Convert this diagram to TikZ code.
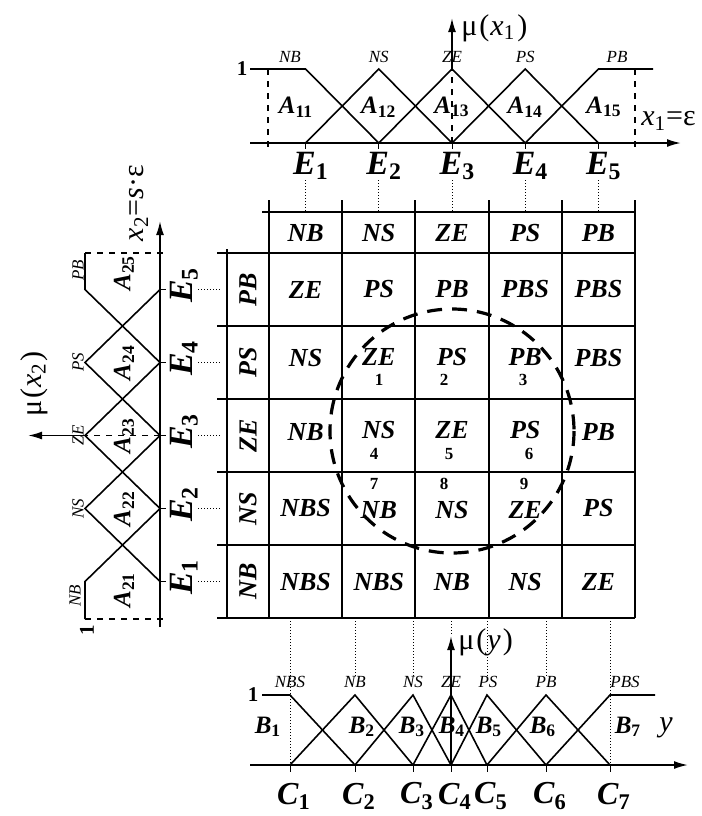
\documentclass[tikz,border=0pt]{standalone}
\usepackage{fontspec}
\setmainfont{Liberation Serif}
\usepackage{tikz}
\usetikzlibrary{arrows.meta}
\newcommand{\subidx}[1]{\textsubscript{\upshape #1}}

\begin{document}
\begin{tikzpicture}[
    x=0.5pt, y=-0.5pt,
    cell/.style={font=\fontsize{13}{13}\selectfont\bfseries\itshape, inner sep=0pt},
    side cell/.style={cell, rotate=90},
    num/.style={font=\fontsize{8.5}{8.5}\selectfont\bfseries, inner sep=0pt},
    term/.style={font=\fontsize{8.5}{8.5}\selectfont\itshape, inner sep=0pt},
    area/.style={font=\fontsize{12.5}{12.5}\selectfont\bfseries\itshape, inner sep=0pt},
    elabel/.style={font=\fontsize{17}{17}\selectfont\bfseries\itshape, inner sep=0pt},
    clabel/.style={font=\fontsize{16}{16}\selectfont\bfseries\itshape, inner sep=0pt},
    one/.style={font=\fontsize{10.5}{10.5}\selectfont\bfseries, inner sep=0pt},
    axlabel/.style={font=\fontsize{15}{15}\selectfont, inner sep=0pt},
    tab line/.style={line width=1pt},
    mf/.style={line width=0.8pt},
    axis/.style={line width=0.9pt, -{Latex[length=7pt,width=4pt]}},
    guide/.style={densely dotted, line width=0.5pt},
    bound/.style={dashed, line width=0.7pt},
    zone/.style={line width=1.6pt, dash pattern=on 7.5pt off 5pt}
  ]
  \useasboundingbox (0,0) rectangle (702,816);

  % table
  \draw[tab line] (262,212) -- (635,212);
  \draw[tab line] (217,253) -- (635,253);
  \draw[tab line] (217,326) -- (635,326);
  \draw[tab line] (217,399) -- (635,399);
  \draw[tab line] (217,472) -- (635,472);
  \draw[tab line] (217,545) -- (635,545);
  \draw[tab line] (217,618) -- (635,618);
  \draw[tab line] (227,249) -- (227,618);
  \draw[tab line] (269,200) -- (269,618);
  \draw[tab line] (342.2,200) -- (342.2,618);
  \draw[tab line] (415.4,200) -- (415.4,618);
  \draw[tab line] (488.6,200) -- (488.6,618);
  \draw[tab line] (561.8,200) -- (561.8,618);
  \draw[tab line] (635,200) -- (635,618);

  \node[cell] (top1) at (305.6,233) {NB};
  \node[cell] (top2) at (378.8,233) {NS};
  \node[cell] (top3) at (452,233) {ZE};
  \node[cell] (top4) at (525.2,233) {PS};
  \node[cell] (top5) at (598.4,233) {PB};

  \node[side cell] (side5) at (248,289.5) {PB};
  \node[side cell] (side4) at (248,362.5) {PS};
  \node[side cell] (side3) at (248,435.5) {ZE};
  \node[side cell] (side2) at (248,508.5) {NS};
  \node[side cell] (side1) at (248,581.5) {NB};

  \node[cell] (pb1) at (305.6,289.5) {ZE};
  \node[cell] (pb2) at (378.8,289.5) {PS};
  \node[cell] (pb3) at (452,289.5) {PB};
  \node[cell] (pb4) at (525.2,289.5) {PBS};
  \node[cell] (pb5) at (598.4,289.5) {PBS};

  \node[cell] (ps1) at (305.6,358) {NS};
  \node[cell] (ps2) at (378.8,357) {ZE};
  \node[cell] (ps3) at (452,357) {PS};
  \node[cell] (ps4) at (525.2,357) {PB};
  \node[cell] (ps5) at (598.4,358) {PBS};

  \node[cell] (ze1) at (305.6,432) {NB};
  \node[cell] (ze2) at (378.8,430) {NS};
  \node[cell] (ze3) at (452,430) {ZE};
  \node[cell] (ze4) at (525.2,430) {PS};
  \node[cell] (ze5) at (598.4,432) {PB};

  \node[cell] (ns1) at (305.6,508) {NBS};
  \node[cell] (ns2) at (378.8,510) {NB};
  \node[cell] (ns3) at (452,510) {NS};
  \node[cell] (ns4) at (525.2,510) {ZE};
  \node[cell] (ns5) at (598.4,508) {PS};

  \node[cell] (nb1) at (305.6,582) {NBS};
  \node[cell] (nb2) at (378.8,582) {NBS};
  \node[cell] (nb3) at (452,582) {NB};
  \node[cell] (nb4) at (525.2,582) {NS};
  \node[cell] (nb5) at (598.4,582) {ZE};

  \node[num] (k1) at (379,380) {1};
  \node[num] (k2) at (444,380) {2};
  \node[num] (k3) at (523,380) {3};
  \node[num] (k4) at (374,454) {4};
  \node[num] (k5) at (449,454) {5};
  \node[num] (k6) at (529,454) {6};
  \node[num] (k7) at (374,484) {7};
  \node[num] (k8) at (444,484) {8};
  \node[num] (k9) at (524,484) {9};

  \draw[zone] (452,431) circle[radius=122];

  % mu(x1)
  \draw[mf] (250,69) -- (305.6,69) -- (378.8,143);
  \draw[mf] (305.6,143) -- (378.8,69) -- (452,143);
  \draw[mf] (378.8,143) -- (452,69) -- (525.2,143);
  \draw[mf] (452,143) -- (525.2,69) -- (598.4,143);
  \draw[mf] (525.2,143) -- (598.4,69) -- (653,69);
  \draw[bound] (268,69) -- (268,149);
  \draw[bound] (635,69) -- (635,149);
  \draw[bound] (452,143) -- (452,69);
  \draw[axis] (452,69) -- (452,18);
  \draw[axis] (250,143) -- (681,143);
  \draw (305.6,143) -- (305.6,149) (378.8,143) -- (378.8,149) (452,143) -- (452,149)
        (525.2,143) -- (525.2,149) (598.4,143) -- (598.4,149);

  \node[one] (one1) at (242,69) {1};
  \node[term] (tnb) at (290,57) {NB};
  \node[term] (tns) at (378.8,57) {NS};
  \node[term] (tze) at (452,57) {ZE};
  \node[term] (tps) at (525.2,57) {PS};
  \node[term] (tpb) at (617,57) {PB};
  \node[area] (a11) at (296,107) {A\subidx{11}};
  \node[area] (a12) at (378.8,107) {A\subidx{12}};
  \node[area] (a13) at (452,107) {A\subidx{13}};
  \node[area] (a14) at (525.2,107) {A\subidx{14}};
  \node[area] (a15) at (604,107) {A\subidx{15}};
  \node[axlabel, anchor=west] (mux1) at (461,28) {μ\kern1pt(\kern0.5pt\textit{x}\subidx{1}\kern1pt)};
  \node[axlabel, anchor=west] (xone) at (641,121) {\textit{x}\subidx{1}=ε};

  \node[elabel] (e1) at (311,166) {E\subidx{1}};
  \node[elabel] (e2) at (384.2,166) {E\subidx{2}};
  \node[elabel] (e3) at (457.4,166) {E\subidx{3}};
  \node[elabel] (e4) at (530.6,166) {E\subidx{4}};
  \node[elabel] (e5) at (603.8,166) {E\subidx{5}};
  \coordinate (t1) at (305.6,212);
  \coordinate (t2) at (378.8,212);
  \coordinate (t3) at (452,212);
  \coordinate (t4) at (525.2,212);
  \coordinate (t5) at (598.4,212);
  \draw[guide] (t1 |- e1.south) -- (t1);
  \draw[guide] (t2 |- e2.south) -- (t2);
  \draw[guide] (t3 |- e3.south) -- (t3);
  \draw[guide] (t4 |- e4.south) -- (t4);
  \draw[guide] (t5 |- e5.south) -- (t5);

  % mu(x2)
  \draw[mf] (85,253) -- (85,289.5) -- (160,362.5);
  \draw[mf] (160,289.5) -- (85,362.5) -- (160,435.5);
  \draw[mf] (160,362.5) -- (85,435.5) -- (160,508.5);
  \draw[mf] (160,435.5) -- (85,508.5) -- (160,581.5);
  \draw[mf] (160,508.5) -- (85,581.5) -- (85,619);
  \draw[bound] (85,253) -- (168,253);
  \draw[bound] (85,619) -- (168,619);
  \draw[bound] (160,435.5) -- (85,435.5);
  \draw[axis] (85,435.5) -- (28,435.5);
  \draw[axis] (160,627) -- (160,221);
  \draw (160,289.5) -- (166,289.5) (160,362.5) -- (166,362.5) (160,435.5) -- (166,435.5)
        (160,508.5) -- (166,508.5) (160,581.5) -- (166,581.5);

  \node[one, rotate=90] (one2) at (87,630) {1};
  \node[term, rotate=90] (lpb) at (78,270) {PB};
  \node[term, rotate=90] (lps) at (78,362.5) {PS};
  \node[term, rotate=90] (lze) at (78,435.5) {ZE};
  \node[term, rotate=90] (lns) at (78,508.5) {NS};
  \node[term, rotate=90] (lnb) at (75,596) {NB};
  \node[area, rotate=90] (a25) at (124,273) {A\subidx{25}};
  \node[area, rotate=90] (a24) at (124,362.5) {A\subidx{24}};
  \node[area, rotate=90] (a23) at (124,435.5) {A\subidx{23}};
  \node[area, rotate=90] (a22) at (124,508.5) {A\subidx{22}};
  \node[area, rotate=90] (a21) at (124,590) {A\subidx{21}};
  \node[axlabel, rotate=90] (mux2) at (34,384) {μ\kern1pt(\kern0.5pt\textit{x}\subidx{2}\kern1pt)};
  \node[axlabel, rotate=90] (xtwo) at (139,203) {\textit{x}\subidx{2}=\textit{s}·ε};

  \node[elabel, rotate=90] (l5) at (184,285) {E\subidx{5}};
  \node[elabel, rotate=90] (l4) at (184,358) {E\subidx{4}};
  \node[elabel, rotate=90] (l3) at (184,431) {E\subidx{3}};
  \node[elabel, rotate=90] (l2) at (184,504) {E\subidx{2}};
  \node[elabel, rotate=90] (l1) at (184,577) {E\subidx{1}};
  \coordinate (s5) at (222,289.5);
  \coordinate (s4) at (222,362.5);
  \coordinate (s3) at (222,435.5);
  \coordinate (s2) at (222,508.5);
  \coordinate (s1) at (222,581.5);
  \draw[guide] (s5 -| l5.south) -- (s5);
  \draw[guide] (s4 -| l4.south) -- (s4);
  \draw[guide] (s3 -| l3.south) -- (s3);
  \draw[guide] (s2 -| l2.south) -- (s2);
  \draw[guide] (s1 -| l1.south) -- (s1);

  % mu(y)
  \draw[mf] (262,695) -- (290,695) -- (355,765);
  \draw[mf] (290,765) -- (355,695) -- (413,765);
  \draw[mf] (355,765) -- (413,695) -- (451,765);
  \draw[mf] (413,765) -- (451,695) -- (487,765);
  \draw[mf] (451,765) -- (487,695) -- (546,765);
  \draw[mf] (487,765) -- (546,695) -- (610,765);
  \draw[mf] (546,765) -- (610,695) -- (655,695);
  \draw[axis] (451,765) -- (451,636);
  \draw[axis] (250,765) -- (688,765);
  \draw (290,765) -- (290,772) (355,765) -- (355,772) (413,765) -- (413,772) (451,765) -- (451,772)
        (487,765) -- (487,772) (546,765) -- (546,772) (610,765) -- (610,772);

  \node[one] (one3) at (253,695) {1};
  \node[term] (bnbs) at (290,682) {NBS};
  \node[term] (bnb) at (355,682) {NB};
  \node[term] (bns) at (413,682) {NS};
  \node[term] (bze) at (451,682) {ZE};
  \node[term] (bps) at (488,682) {PS};
  \node[term] (bpb) at (546,682) {PB};
  \node[term] (bpbs) at (625,682) {PBS};
  \node[area] (b1) at (268,727) {B\subidx{1}};
  \node[area] (b2) at (362,727) {B\subidx{2}};
  \node[area] (b3) at (412,727) {B\subidx{3}};
  \node[area] (b4) at (452,727) {B\subidx{4}};
  \node[area] (b5) at (489,727) {B\subidx{5}};
  \node[area] (b6) at (543,727) {B\subidx{6}};
  \node[area] (b7) at (628,727) {B\subidx{7}};
  \node[axlabel, anchor=west] (muy) at (458,642) {μ\kern1pt(\kern0.5pt\textit{y}\kern1pt)};
  \node[axlabel] (ylab) at (666,728) {\textit{y}};

  \node[clabel] (c1) at (294,796) {C\subidx{1}};
  \node[clabel] (c2) at (359,796) {C\subidx{2}};
  \node[clabel] (c3) at (417,796) {C\subidx{3}};
  \node[clabel] (c4) at (455,796) {C\subidx{4}};
  \node[clabel] (c5) at (491,796) {C\subidx{5}};
  \node[clabel] (c6) at (550,796) {C\subidx{6}};
  \node[clabel] (c7) at (614,796) {C\subidx{7}};
  \coordinate (g1) at (290,618);
  \coordinate (g2) at (355,618);
  \coordinate (g3) at (413,618);
  \coordinate (g4) at (451,618);
  \coordinate (g5) at (487,618);
  \coordinate (g6) at (546,618);
  \coordinate (g7) at (610,618);
  \coordinate (h1) at (290,765);
  \coordinate (h7) at (610,765);
  \draw[guide] (g1) -- (h1);
  \draw[guide] (g2) -- (g2 |- bnb.north);
  \draw[guide] (g3) -- (g3 |- bns.north);
  \draw[guide] (g4) -- (451,636);
  \draw[guide] (g5) -- (g5 |- bps.north);
  \draw[guide] (g6) -- (g6 |- bpb.north);
  \draw[guide] (g7) -- (h7);
\end{tikzpicture}
\end{document}
